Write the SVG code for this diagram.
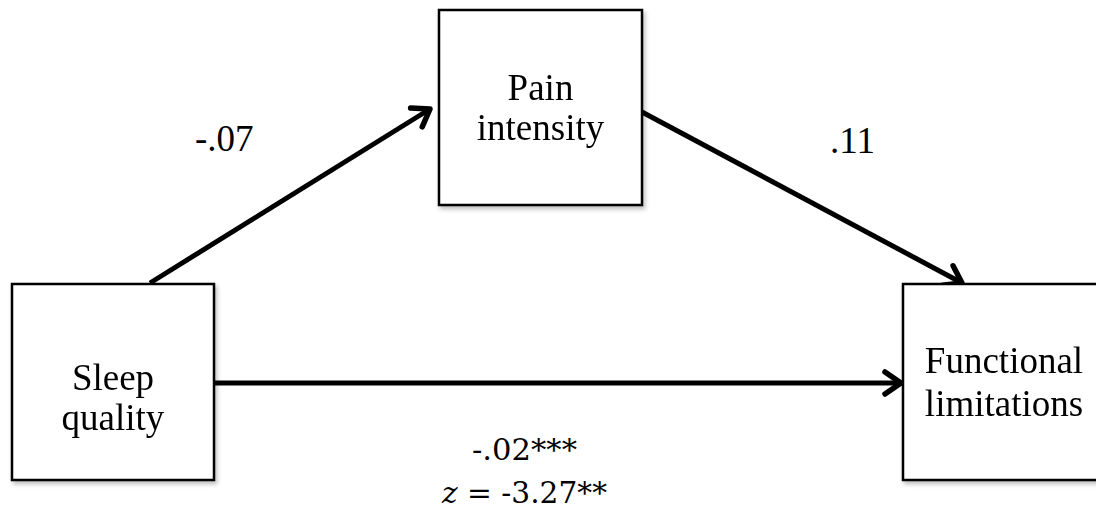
<svg xmlns="http://www.w3.org/2000/svg" width="1096" height="510" viewBox="0 0 1096 510">
<defs>
<filter id="sh" x="-10%" y="-10%" width="130%" height="130%">
<feDropShadow dx="2" dy="3" stdDeviation="2" flood-color="#000" flood-opacity="0.25"/>
</filter>
<marker id="ah" markerUnits="userSpaceOnUse" markerWidth="40" markerHeight="40" refX="0" refY="0" viewBox="-20 -20 40 40" orient="auto" overflow="visible">
<path d="M -16 -11 L 0 0 L -16 11" fill="none" stroke="#000" stroke-width="5.5" stroke-linecap="round" stroke-linejoin="round"/>
</marker>
</defs>
<style>
.box{fill:#fff;stroke:#000;stroke-width:2.5}
.nt{font-family:"Liberation Serif","Times New Roman",serif;font-size:37px;fill:#000;text-anchor:middle}
.lbs{font-family:"Liberation Serif","Times New Roman",serif;font-size:37px;fill:#000}
.lb{font-family:"DejaVu Serif","Liberation Serif",serif;font-size:30px;fill:#000}
.con{stroke:#000;stroke-width:5;fill:none;marker-end:url(#ah)}
</style>
<rect width="1096" height="510" fill="#fff"/>
<g id="connectors">
<line class="con" x1="150" y1="283" x2="430" y2="109"/>
<line class="con" x1="642" y1="112" x2="962" y2="283"/>
<line class="con" x1="214" y1="383" x2="901" y2="383"/>
</g>
<g id="node-sleep" filter="url(#sh)">
<rect class="box" x="12" y="284" width="202" height="196"/>
<text class="nt" x="113" y="390">Sleep</text>
<text class="nt" x="113" y="430">quality</text>
</g>
<g id="node-pain" filter="url(#sh)">
<rect class="box" x="439" y="10" width="203" height="195"/>
<text class="nt" x="540.5" y="100">Pain</text>
<text class="nt" x="540.5" y="140">intensity</text>
</g>
<g id="node-functional" filter="url(#sh)">
<rect class="box" x="903" y="284" width="202" height="196"/>
<text class="nt" x="1004" y="373">Functional</text>
<text class="nt" x="1004" y="416">limitations</text>
</g>
<g id="labels">
<text class="lbs" x="195" y="151">-.07</text>
<text class="lbs" x="830" y="153" font-size="36">.11</text>
<text class="lb" x="472" y="460" textLength="105" lengthAdjust="spacingAndGlyphs">-.02***</text>
<text class="lb" x="442" y="503" textLength="165" lengthAdjust="spacingAndGlyphs"><tspan font-style="italic">z</tspan> = -3.27**</text>
</g>
</svg>
